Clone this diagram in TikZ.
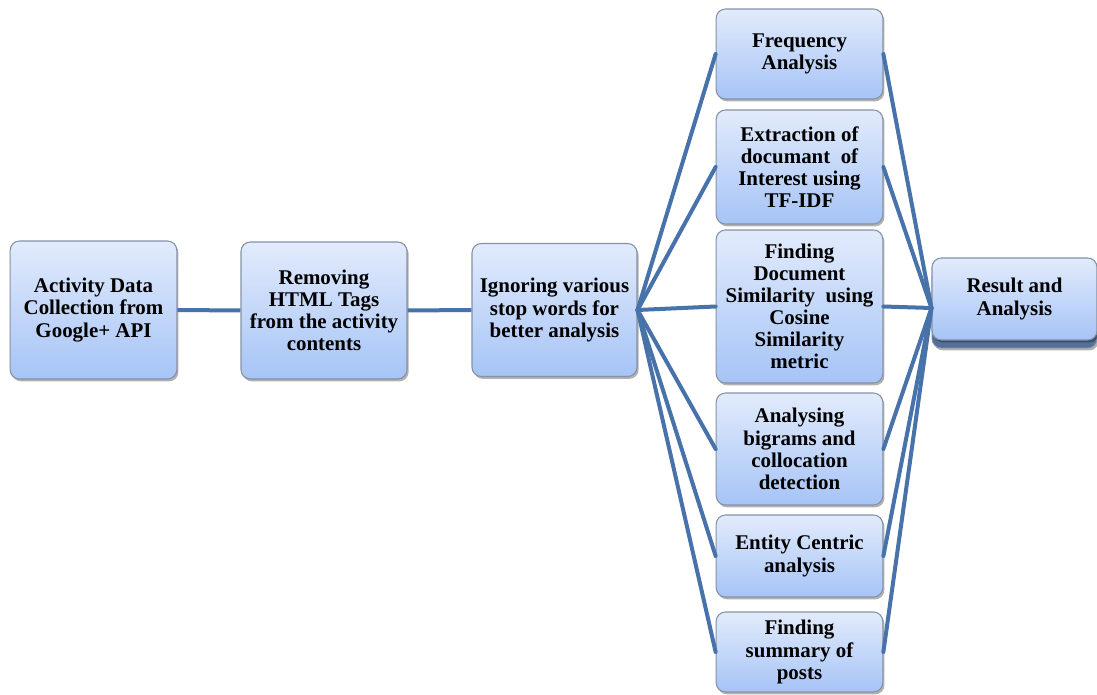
\documentclass[tikz,border=0pt]{standalone}
\usepackage{fontspec}
\setmainfont{Liberation Serif}
\usetikzlibrary{shadows}
\definecolor{linkc}{RGB}{72,114,170}
\definecolor{boxtop}{RGB}{226,235,252}
\definecolor{boxbot}{RGB}{166,196,246}
\definecolor{boxdraw}{RGB}{132,146,166}
\definecolor{stackc}{RGB}{84,112,154}
\tikzset{
  px/.style={x=0.75pt,y=-0.75pt},
  stepbox/.style={rectangle, rounded corners=7pt, draw=boxdraw, line width=0.8pt,
    top color=boxtop, bottom color=boxbot, align=center, inner sep=2pt,
    font=\fontsize{15.7}{16.6}\selectfont\bfseries,
    drop shadow={shadow xshift=1.2pt, shadow yshift=-1.8pt, opacity=0.3, fill=black}},
  link/.style={draw=linkc, line width=3pt}
}
\begin{document}
\begin{tikzpicture}[px]
\useasboundingbox (0,0) rectangle (1097,695);
\node[stepbox, minimum width=125pt, minimum height=103.5pt] (act) at (93.5,310) {Activity Data\\Collection from\\Google+ API};
\node[stepbox, minimum width=124.5pt, minimum height=102.75pt] (rem) at (324,310.5) {Removing\\HTML Tags\\from the activity\\contents};
\node[stepbox, minimum width=123.75pt, minimum height=99.75pt] (ign) at (554.5,310) {Ignoring various\\stop words for\\better analysis};
\node[stepbox, minimum width=125pt, minimum height=67.5pt] (freq) at (799.5,54) {Frequency\\Analysis};
\node[stepbox, minimum width=125pt, minimum height=85.5pt] (ext) at (799.5,167) {Extraction of\\documant \ of\\Interest using\\TF-IDF};
\node[stepbox, minimum width=125pt, minimum height=114.75pt] (fdoc) at (799.5,306.5) {Finding\\Document\\Similarity \ using\\Cosine\\Similarity\\metric};
\node[stepbox, minimum width=125pt, minimum height=84pt] (ana) at (799.5,449) {Analysing\\bigrams and\\collocation\\detection};
\node[stepbox, minimum width=125pt, minimum height=61.5pt] (ent) at (799.5,556) {Entity Centric\\analysis};
\node[stepbox, minimum width=125pt, minimum height=60pt] (sum) at (799.5,652) {Finding\\summary of\\posts};
% result box with stacked layer
\fill[stackc, rounded corners=7pt, drop shadow={shadow xshift=1.2pt, shadow yshift=-1.8pt, opacity=0.3, fill=black}] (932,268) rectangle (1097,348);
\draw[boxdraw, line width=0.6pt, rounded corners=7pt] (932,268) rectangle (1097,348);
\node[stepbox, minimum width=123.75pt, minimum height=61.5pt] (res) at (1014.5,299) {Result and\\Analysis};
\coordinate (rin) at ([yshift=-6.75pt]res.west);
% connectors
\draw[link] (act.east) -- (rem.west);
\draw[link] (rem.east) -- (ign.west);
\foreach \n in {freq,ext,fdoc,ana,ent,sum}{
  \draw[link, line cap=round] (ign.east) -- (\n.west);
  \draw[link, line cap=round] (\n.east) -- (rin);
}
\end{tikzpicture}
\end{document}
